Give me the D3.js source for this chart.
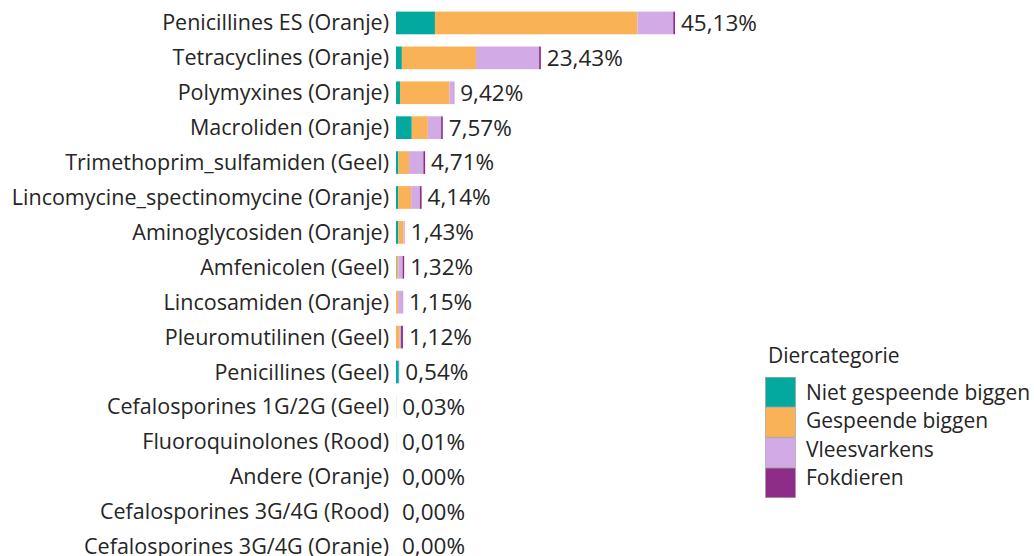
<!DOCTYPE html>
<html>
<head>
<meta charset="utf-8">
<script src="https://cdn.jsdelivr.net/npm/d3@7"></script>
<style>
  html, body { margin: 0; padding: 0; background: #ffffff; }
  svg { display: block; font-family: "Open Sans", sans-serif; }
</style>
</head>
<body>
<svg id="chart" width="1034" height="556"></svg>
<script>
const categories = [
  "Penicillines ES (Oranje)",
  "Tetracyclines (Oranje)",
  "Polymyxines (Oranje)",
  "Macroliden (Oranje)",
  "Trimethoprim_sulfamiden (Geel)",
  "Lincomycine_spectinomycine (Oranje)",
  "Aminoglycosiden (Oranje)",
  "Amfenicolen (Geel)",
  "Lincosamiden (Oranje)",
  "Pleuromutilinen (Geel)",
  "Penicillines (Geel)",
  "Cefalosporines 1G/2G (Geel)",
  "Fluoroquinolones (Rood)",
  "Andere (Oranje)",
  "Cefalosporines 3G/4G (Rood)",
  "Cefalosporines 3G/4G (Oranje)"
];
const seriesNames = ["Niet gespeende biggen", "Gespeende biggen", "Vleesvarkens", "Fokdieren"];
const nietGespeende = [6.30, 0.95, 0.65, 2.55, 0.38, 0.35, 0.38, 0.10, 0.02, 0.00, 0.45, 0.01, 0.01, 0, 0, 0];
const gespeende     = [32.75, 12.00, 8.00, 2.60, 1.73, 2.10, 0.85, 0.30, 0.32, 0.60, 0.00, 0.01, 0.00, 0, 0, 0];
const vleesvarkens  = [5.80, 10.20, 0.72, 2.15, 2.32, 1.42, 0.20, 0.67, 0.78, 0.22, 0.09, 0.01, 0.00, 0, 0, 0];
const fokdieren     = [0.28, 0.28, 0.05, 0.27, 0.28, 0.27, 0.00, 0.25, 0.03, 0.30, 0.00, 0.00, 0.00, 0, 0, 0];
const totalLabels = ["45,13%", "23,43%", "9,42%", "7,57%", "4,71%", "4,14%", "1,43%", "1,32%", "1,15%", "1,12%", "0,54%", "0,03%", "0,01%", "0,00%", "0,00%", "0,00%"];
const colors = ["#03a89e", "#f9b256", "#d2abe6", "#8d2d89"];
const legendTitle = "Diercategorie";

const rows = categories.map((c, i) => ({
  cat: c,
  "Niet gespeende biggen": nietGespeende[i],
  "Gespeende biggen": gespeende[i],
  "Vleesvarkens": vleesvarkens[i],
  "Fokdieren": fokdieren[i],
  label: totalLabels[i]
}));

const svg = d3.select("#chart");
const x0 = 396;
const x = d3.scaleLinear().domain([0, 45.13]).range([x0, 675]);
const y = d3.scaleBand().domain(categories).range([5.5, 564]).paddingInner(0.35).paddingOuter(0.175);
const color = d3.scaleOrdinal().domain(seriesNames).range(colors);

const stack = d3.stack().keys(seriesNames);
const stacked = stack(rows);

const textColor = "#252525";

svg.append("g").selectAll("g")
  .data(stacked)
  .join("g")
  .attr("fill", d => color(d.key))
  .selectAll("rect")
  .data(d => d)
  .join("rect")
  .attr("x", d => x(d[0]))
  .attr("y", d => y(d.data.cat))
  .attr("width", d => Math.max(0, x(d[1]) - x(d[0])))
  .attr("height", y.bandwidth());

// category labels
svg.append("g").selectAll("text")
  .data(rows)
  .join("text")
  .attr("x", x0 - 7)
  .attr("y", d => y(d.cat) + y.bandwidth() / 2)
  .attr("dy", "0.35em")
  .attr("text-anchor", "end")
  .attr("font-size", 21.5)
  .attr("fill", textColor)
  .text(d => d.cat);

// total labels
svg.append("g").selectAll("text")
  .data(rows)
  .join("text")
  .attr("x", d => x(d3.sum(seriesNames, k => d[k])) + 6)
  .attr("y", d => y(d.cat) + y.bandwidth() / 2)
  .attr("dy", "0.35em")
  .attr("font-size", 22.5)
  .attr("fill", textColor)
  .text(d => d.label);

// legend
const lg = svg.append("g").attr("transform", "translate(765,0)");
lg.append("text")
  .attr("x", 3)
  .attr("y", 363)
  .attr("font-size", 21)
  .attr("fill", textColor)
  .text(legendTitle);
const sw = d3.scaleBand().domain(seriesNames).range([377.3, 498.3]);
const ty = d3.scalePoint().domain(seriesNames).range([400, 485]);
lg.selectAll("rect.sw")
  .data(seriesNames)
  .join("rect")
  .attr("class", "sw")
  .attr("x", 0.5)
  .attr("y", d => sw(d))
  .attr("width", 30)
  .attr("height", sw.bandwidth() - 0.6)
  .attr("fill", d => color(d))
  .attr("stroke", "#9a9a9a")
  .attr("stroke-width", 0.6);
lg.selectAll("text.lt")
  .data(seriesNames)
  .join("text")
  .attr("class", "lt")
  .attr("x", 41)
  .attr("y", d => ty(d))
  .attr("font-size", 21)
  .attr("fill", textColor)
  .text(d => d);
</script>
</body>
</html>
